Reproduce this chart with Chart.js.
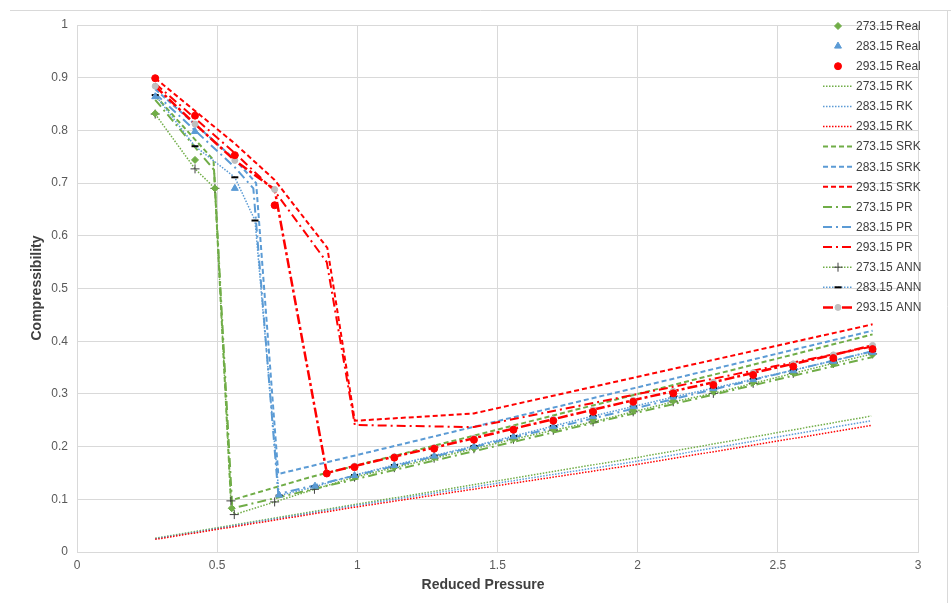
<!DOCTYPE html>
<html><head><meta charset="utf-8">
<script src="https://cdn.jsdelivr.net/npm/chart.js@4"></script>
<style>html,body{margin:0;padding:0;background:#fff;}canvas{display:block;}</style>
</head><body>
<canvas id="c" width="951" height="603"></canvas>
<script>
// ---- tick labels ----
const xTickLabels = ['0','0.5','1','1.5','2','2.5','3'];
const yTickLabels = ['0','0.1','0.2','0.3','0.4','0.5','0.6','0.7','0.8','0.9','1'];

// ---- reduced pressures (high-pressure part shared by many series) ----
const pHigh = [0.990, 1.132, 1.274, 1.416, 1.557, 1.699, 1.841, 1.984, 2.127, 2.270, 2.412, 2.555, 2.698, 2.838];

// ---- experimental data ----
const xReal273 = [0.279, 0.421, 0.492, 0.552, ...pHigh];
const yReal273 = [0.832, 0.744, 0.690, 0.083, 0.143, 0.161, 0.179, 0.197, 0.215, 0.233, 0.251, 0.269, 0.287, 0.305, 0.322, 0.340, 0.357, 0.375];
const xReal283 = [0.279, 0.421, 0.563, 0.721, 0.849, ...pHigh];
const yReal283 = [0.864, 0.798, 0.690, 0.108, 0.125, 0.145, 0.164, 0.182, 0.200, 0.219, 0.238, 0.257, 0.276, 0.294, 0.310, 0.327, 0.344, 0.362, 0.379];
const xReal293 = [0.279, 0.421, 0.563, 0.705, 0.891, ...pHigh];
const yReal293 = [0.899, 0.828, 0.753, 0.658, 0.149, 0.161, 0.179, 0.196, 0.213, 0.232, 0.249, 0.266, 0.285, 0.301, 0.317, 0.336, 0.352, 0.368, 0.385];

// ---- RK ----
const xRK = [0.279, 0.990, 1.984, 2.833];
const yRK273 = [0.026, 0.090, 0.178, 0.258];
const yRK283 = [0.025, 0.088, 0.171, 0.249];
const yRK293 = [0.024, 0.085, 0.165, 0.240];

// ---- SRK ----
const xSRK273 = [0.279, 0.487, 0.549, 0.825, 2.838];
const ySRK273 = [0.866, 0.744, 0.098, 0.141, 0.413];
const xSRK283 = [0.279, 0.563, 0.639, 0.718, 2.838];
const ySRK283 = [0.878, 0.745, 0.700, 0.148, 0.420];
const xSRK293 = [0.279, 0.563, 0.705, 0.893, 0.991, 1.416, 2.838];
const ySRK293 = [0.899, 0.775, 0.706, 0.577, 0.249, 0.263, 0.432];

// ---- PR ----
const xPR273 = [0.279, 0.489, 0.554, 2.838];
const yPR273 = [0.858, 0.725, 0.083, 0.370];
const xPR283 = [0.279, 0.563, 0.629, 0.718, 2.838];
const yPR283 = [0.870, 0.730, 0.690, 0.110, 0.381];
const xPR293 = [0.279, 0.563, 0.705, 0.891, 0.991, 1.416, 2.838];
const yPR293 = [0.889, 0.757, 0.685, 0.550, 0.241, 0.237, 0.390];

// ---- ANN ----
const xANN273 = [0.279, 0.421, 0.492, 0.549, 0.561, 0.705, 0.847, ...pHigh];
const yANN273 = [0.831, 0.727, 0.690, 0.097, 0.071, 0.095, 0.119, 0.142, 0.160, 0.178, 0.196, 0.214, 0.231, 0.247, 0.266, 0.285, 0.301, 0.320, 0.339, 0.358, 0.376];
const xANN283 = [0.279, 0.421, 0.563, 0.635, 0.721, 0.849, ...pHigh];
const yANN283 = [0.867, 0.770, 0.711, 0.629, 0.107, 0.124, 0.146, 0.165, 0.183, 0.201, 0.220, 0.239, 0.258, 0.276, 0.294, 0.311, 0.328, 0.345, 0.363, 0.381];
const xANN293 = [0.279, 0.421, 0.563, 0.705, 0.891, ...pHigh];
const yANN293 = [0.884, 0.812, 0.743, 0.688, 0.150, 0.163, 0.181, 0.198, 0.216, 0.234, 0.252, 0.270, 0.288, 0.305, 0.322, 0.340, 0.357, 0.374, 0.392];

const seriesNames = ['273.15 Real','283.15 Real','293.15 Real','273.15 RK','283.15 RK','293.15 RK',
  '273.15 SRK','283.15 SRK','293.15 SRK','273.15 PR','283.15 PR','293.15 PR','273.15 ANN','283.15 ANN','293.15 ANN'];

const GREEN = '#70AD47', BLUE = '#5B9BD5', RED = '#FF0000';
const pts = (xs, ys) => xs.map((x, i) => ({x: x, y: ys[i]}));

function marker(name, xs, ys, color, style, r) {
  return {label: name, data: pts(xs, ys), showLine: false, pointStyle: style, pointRadius: r,
    pointBackgroundColor: color, pointBorderColor: color, pointBorderWidth: 1, borderColor: color, backgroundColor: color};
}
function line(name, xs, ys, color, dash, w, extra) {
  return Object.assign({label: name, data: pts(xs, ys), showLine: true, borderColor: color, backgroundColor: color,
    borderWidth: w, borderDash: dash, pointRadius: 0, pointStyle: false, tension: 0, fill: false}, extra || {});
}
const DOT = [1.5, 1.5], DASH = [5, 3], DASHDOT = [9, 4, 2, 4];

const datasets = [
  marker(seriesNames[0], xReal273, yReal273, GREEN, 'rectRot', 3.5),
  marker(seriesNames[1], xReal283, yReal283, BLUE, 'triangle', 4),
  marker(seriesNames[2], xReal293, yReal293, RED, 'circle', 3.5),
  line(seriesNames[3], xRK, yRK273, GREEN, DOT, 1.5),
  line(seriesNames[4], xRK, yRK283, BLUE, DOT, 1.5),
  line(seriesNames[5], xRK, yRK293, RED, DOT, 1.5),
  line(seriesNames[6], xSRK273, ySRK273, GREEN, DASH, 2),
  line(seriesNames[7], xSRK283, ySRK283, BLUE, DASH, 2),
  line(seriesNames[8], xSRK293, ySRK293, RED, DASH, 2),
  line(seriesNames[9], xPR273, yPR273, GREEN, DASHDOT, 2),
  line(seriesNames[10], xPR283, yPR283, BLUE, DASHDOT, 2),
  line(seriesNames[11], xPR293, yPR293, RED, DASHDOT, 2),
  line(seriesNames[12], xANN273, yANN273, GREEN, DOT, 1.5,
    {pointStyle: 'cross', pointRadius: 4.5, pointBorderColor: '#404040', pointBackgroundColor: '#404040', pointBorderWidth: 1}),
  line(seriesNames[13], xANN283, yANN283, BLUE, DOT, 1.5,
    {pointStyle: 'line', pointRadius: 3.5, pointBorderColor: '#000000', pointBackgroundColor: '#000000', pointBorderWidth: 2}),
  line(seriesNames[14], xANN293, yANN293, RED, [10, 3, 3, 3], 2.5,
    {pointStyle: 'circle', pointRadius: 3, pointBorderColor: '#BFBFBF', pointBackgroundColor: '#BFBFBF', pointBorderWidth: 1}),
];
// drawing order: lines from RK up to ANN, experimental markers on top
datasets.forEach((d, i) => { d.order = i < 3 ? 3 - i : 3 + (datasets.length - i); });

const FONT = '"Liberation Sans", Arial, sans-serif';

const decor = {
  id: 'decor',
  beforeDraw(chart) {
    const ctx = chart.ctx;
    ctx.save(); ctx.fillStyle = '#fff'; ctx.fillRect(0, 0, chart.width, chart.height); ctx.restore();
  },
  afterDraw(chart) {
    const ctx = chart.ctx;
    ctx.save();
    // frame
    ctx.strokeStyle = '#D9D9D9'; ctx.lineWidth = 1;
    ctx.beginPath(); ctx.moveTo(10, 10.5); ctx.lineTo(951, 10.5); ctx.moveTo(947.5, 10); ctx.lineTo(947.5, 603); ctx.stroke();
    // axis titles
    ctx.fillStyle = '#404040';
    ctx.font = 'bold 14px ' + FONT;
    ctx.textAlign = 'center'; ctx.textBaseline = 'middle';
    ctx.fillText('Reduced Pressure', 483, 585);
    ctx.save(); ctx.translate(37, 288); ctx.rotate(-Math.PI / 2); ctx.fillText('Compressibility', 0, 0); ctx.restore();
    // legend
    chart.data.datasets.forEach((ds, i) => {
      const y = 26 + i * 20.1;
      if (ds.showLine) {
        ctx.save();
        ctx.strokeStyle = ds.borderColor; ctx.lineWidth = ds.borderWidth; ctx.setLineDash(ds.borderDash || []);
        ctx.beginPath(); ctx.moveTo(823, y); ctx.lineTo(853, y); ctx.stroke();
        ctx.restore();
      }
      if (ds.pointRadius > 0 && ds.pointStyle) {
        ctx.save();
        ctx.setLineDash([]);
        ctx.fillStyle = ds.pointBackgroundColor; ctx.strokeStyle = ds.pointBorderColor; ctx.lineWidth = ds.pointBorderWidth;
        Chart.helpers.drawPoint(ctx, {pointStyle: ds.pointStyle, radius: ds.pointRadius, borderWidth: ds.pointBorderWidth, rotation: 0}, 838, y);
        ctx.restore();
      }
      ctx.fillStyle = '#404040'; ctx.font = '12px ' + FONT; ctx.textAlign = 'left'; ctx.textBaseline = 'middle';
      ctx.fillText(ds.label, 856, y + 0.5);
    });
    ctx.restore();
  }
};

new Chart(document.getElementById('c'), {
  type: 'scatter',
  data: {datasets: datasets},
  options: {
    responsive: false, animation: false, devicePixelRatio: 1, events: [],
    layout: {padding: {top: 25, right: 33, left: 0, bottom: 0}},
    plugins: {legend: {display: false}, tooltip: {enabled: false}},
    scales: {
      x: {type: 'linear', min: 0, max: 3,
        afterFit: s => { s.height = 51; },
        afterBuildTicks: s => { s.ticks = xTickLabels.map(t => ({value: parseFloat(t)})); },
        ticks: {callback: (v, i) => xTickLabels[i], color: '#595959', font: {family: FONT, size: 12}, padding: 6, maxRotation: 0},
        grid: {color: '#D9D9D9', drawTicks: false}, border: {color: '#D9D9D9'}},
      y: {type: 'linear', min: 0, max: 1,
        afterFit: s => { s.width = 77; },
        afterBuildTicks: s => { s.ticks = yTickLabels.map(t => ({value: parseFloat(t)})); },
        ticks: {callback: (v, i) => yTickLabels[i], color: '#595959', font: {family: FONT, size: 12}, padding: 9},
        grid: {color: '#D9D9D9', drawTicks: false}, border: {color: '#D9D9D9'}}
    }
  },
  plugins: [decor]
});
</script>
</body></html>
